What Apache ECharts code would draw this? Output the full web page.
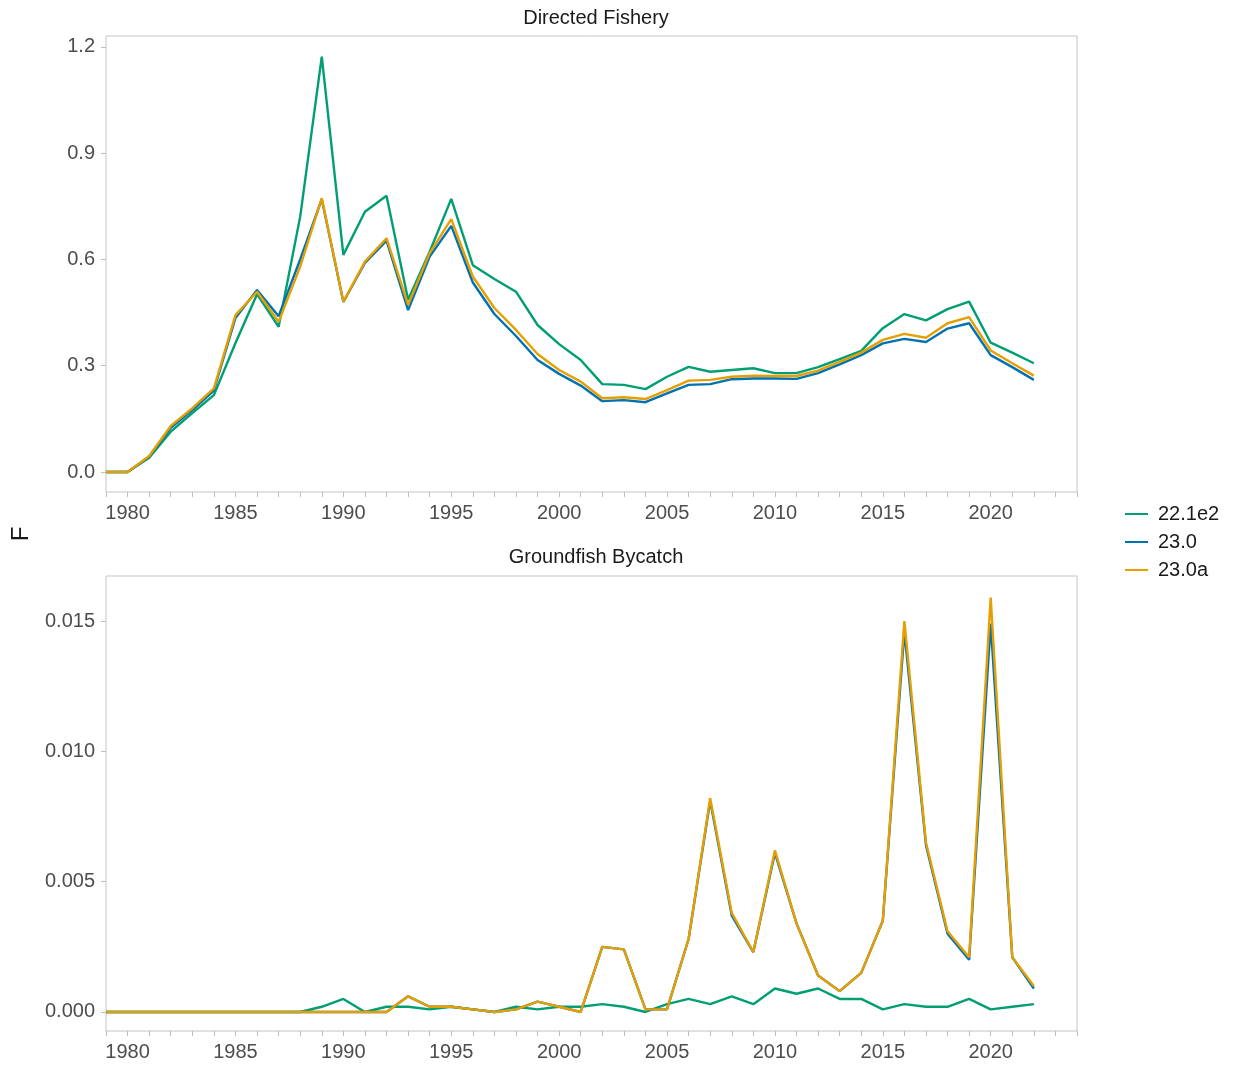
<!DOCTYPE html>
<html>
<head>
<meta charset="utf-8">
<script src="https://cdn.jsdelivr.net/npm/echarts@6/dist/echarts.min.js"></script>
<style>
  html, body { margin: 0; padding: 0; background: #fff; }
  #chart { width: 1236px; height: 1068px; }
</style>
</head>
<body>
<div id="chart"></div>
<script>
var years = [];
for (var y = 1979; y <= 2022; y++) years.push(y);

var seriesNames = ['22.1e2', '23.0', '23.0a'];
var panelTitles = ['Directed Fishery', 'Groundfish Bycatch'];
var xTickLabels = [1980, 1985, 1990, 1995, 2000, 2005, 2010, 2015, 2020];
var topTickLabels = [0, 0.3, 0.6, 0.9, 1.2];
var bottomTickLabels = [0, 0.005, 0.010, 0.015];

// Directed Fishery
var directed_221e2 = [0, 0, 0.040, 0.114, 0.166, 0.217, 0.364, 0.502, 0.410, 0.721,
	1.173, 0.613, 0.735, 0.780, 0.486, 0.622, 0.771, 0.584, 0.545, 0.509,
	0.415, 0.361, 0.316, 0.248, 0.246, 0.234, 0.269, 0.297, 0.283, 0.288,
	0.293, 0.279, 0.279, 0.296, 0.319, 0.342, 0.406, 0.446, 0.428, 0.460,
	0.481, 0.365, 0.337, 0.307];
var directed_230 = [0, 0, 0.043, 0.125, 0.175, 0.230, 0.435, 0.514, 0.440, 0.600,
	0.770, 0.480, 0.590, 0.653, 0.457, 0.608, 0.695, 0.535, 0.446, 0.384,
	0.316, 0.277, 0.244, 0.200, 0.203, 0.197, 0.222, 0.246, 0.248, 0.262,
	0.264, 0.264, 0.263, 0.279, 0.304, 0.330, 0.363, 0.376, 0.367, 0.405,
	0.420, 0.330, 0.296, 0.260];
var directed_230a = [0, 0, 0.045, 0.130, 0.180, 0.236, 0.443, 0.509, 0.424, 0.580,
	0.773, 0.481, 0.594, 0.660, 0.472, 0.618, 0.714, 0.552, 0.463, 0.401,
	0.333, 0.288, 0.255, 0.208, 0.211, 0.206, 0.231, 0.258, 0.260, 0.269,
	0.272, 0.271, 0.271, 0.286, 0.311, 0.337, 0.373, 0.390, 0.379, 0.420,
	0.437, 0.343, 0.307, 0.272];

// Groundfish Bycatch
var bycatch_221e2 = [0, 0, 0, 0, 0, 0, 0, 0, 0, 0,
	0.0002, 0.0005, 0, 0.0002, 0.0002, 0.0001, 0.0002, 0.0001, 0, 0.0002,
	0.0001, 0.0002, 0.0002, 0.0003, 0.0002, 0, 0.0003, 0.0005, 0.0003, 0.0006,
	0.0003, 0.0009, 0.0007, 0.0009, 0.0005, 0.0005, 0.0001, 0.0003, 0.0002, 0.0002,
	0.0005, 0.0001, 0.0002, 0.0003];
var bycatch_230 = [0, 0, 0, 0, 0, 0, 0, 0, 0, 0,
	0, 0, 0, 0, 0.0006, 0.0002, 0.0002, 0.0001, 0, 0.0001,
	0.0004, 0.0002, 0, 0.0025, 0.0024, 0.0001, 0.0001, 0.0028, 0.0081, 0.0037,
	0.0023, 0.0061, 0.0034, 0.0014, 0.0008, 0.0015, 0.0035, 0.0146, 0.0064, 0.0030,
	0.0020, 0.0149, 0.0021, 0.0009];
var bycatch_230a = [0, 0, 0, 0, 0, 0, 0, 0, 0, 0,
	0, 0, 0, 0, 0.0006, 0.0002, 0.0002, 0.0001, 0, 0.0001,
	0.0004, 0.0002, 0, 0.0025, 0.0024, 0.0001, 0.0001, 0.0028, 0.0082, 0.0038,
	0.0023, 0.0062, 0.0034, 0.0014, 0.0008, 0.0015, 0.0035, 0.0150, 0.0065, 0.0031,
	0.0021, 0.0159, 0.0021, 0.0010];

var colors = ['#009E73', '#0072B2', '#E69F00'];
var font = 'Liberation Sans, Arial, sans-serif';

function pairs(vals) {
	return years.map(function(yr, i) { return [yr, vals[i]]; });
}

function xAxisFor(idx) {
	return {
		type : 'value',
		gridIndex : idx,
		min : 1979,
		max : 2024,
		interval : 1,
		axisLine : { show : false, onZero : false },
		axisTick : { show : true, length : 5, lineStyle : { color : '#bdbdbd' } },
		axisLabel : {
			customValues : xTickLabels,
			margin : 11,
			color : '#4d4d4d',
			fontSize : 20,
			fontFamily : font,
			formatter : function(v) { return String(v); }
		},
		splitLine : { show : false }
	};
}

function yAxisFor(idx, min, max, ticks, digits) {
	return {
		type : 'value',
		gridIndex : idx,
		min : min,
		max : max,
		axisLine : { show : false },
		axisTick : { show : true, length : 5, customValues : ticks, lineStyle : { color : '#bdbdbd' } },
		axisLabel : {
			customValues : ticks,
			margin : 11,
			color : '#4d4d4d',
			fontSize : 20,
			fontFamily : font,
			formatter : function(v) { return v.toFixed(digits); }
		},
		splitLine : { show : false }
	};
}

var topData = [directed_221e2, directed_230, directed_230a];
var bottomData = [bycatch_221e2, bycatch_230, bycatch_230a];
var series = [];
[topData, bottomData].forEach(function(panel, p) {
	panel.forEach(function(vals, i) {
		series.push({
			name : seriesNames[i],
			type : 'line',
			xAxisIndex : p,
			yAxisIndex : p,
			data : pairs(vals),
			showSymbol : false,
			symbol : 'none',
			lineStyle : { width : 2.4, color : colors[i] },
			itemStyle : { color : colors[i] },
			z : 2 + i
		});
	});
});

var chart = echarts.init(document.getElementById('chart'));
var option = {
	animation : false,
	backgroundColor : '#ffffff',
	title : [ {
		text : panelTitles[0],
		left : 591,
		top : 3,
		textAlign : 'center',
		textStyle : { fontSize : 20, fontWeight : 'normal', color : '#1a1a1a', fontFamily : font }
	}, {
		text : panelTitles[1],
		left : 591,
		top : 542,
		textAlign : 'center',
		textStyle : { fontSize : 20, fontWeight : 'normal', color : '#1a1a1a', fontFamily : font }
	} ],
	legend : {
		orient : 'vertical',
		left : 1120,
		top : 499,
		itemWidth : 23,
		itemHeight : 2,
		itemGap : 8,
		icon : 'rect',
		data : seriesNames,
		textStyle : { fontSize : 20, color : '#1a1a1a', fontFamily : font, padding : [0, 0, 0, 5] }
	},
	grid : [ {
		left : 106, top : 36, width : 971, height : 456,
		show : true, borderColor : '#c4c4c4', borderWidth : 1, backgroundColor : '#fff'
	}, {
		left : 106, top : 576, width : 971, height : 455,
		show : true, borderColor : '#c4c4c4', borderWidth : 1, backgroundColor : '#fff'
	} ],
	xAxis : [ xAxisFor(0), xAxisFor(1) ],
	yAxis : [
		yAxisFor(0, -0.0565, 1.231, topTickLabels, 1),
		yAxisFor(1, -0.00073, 0.01673, bottomTickLabels, 3)
	],
	graphic : [ {
		type : 'text',
		x : 21,
		y : 534,
		rotation : Math.PI / 2,
		style : {
			text : 'F',
			fontSize : 24,
			fontFamily : font,
			fill : '#1a1a1a',
			align : 'center',
			verticalAlign : 'middle'
		}
	} ],
	series : series
};
chart.setOption(option);
window.addEventListener('resize', chart.resize);
</script>
</body>
</html>
